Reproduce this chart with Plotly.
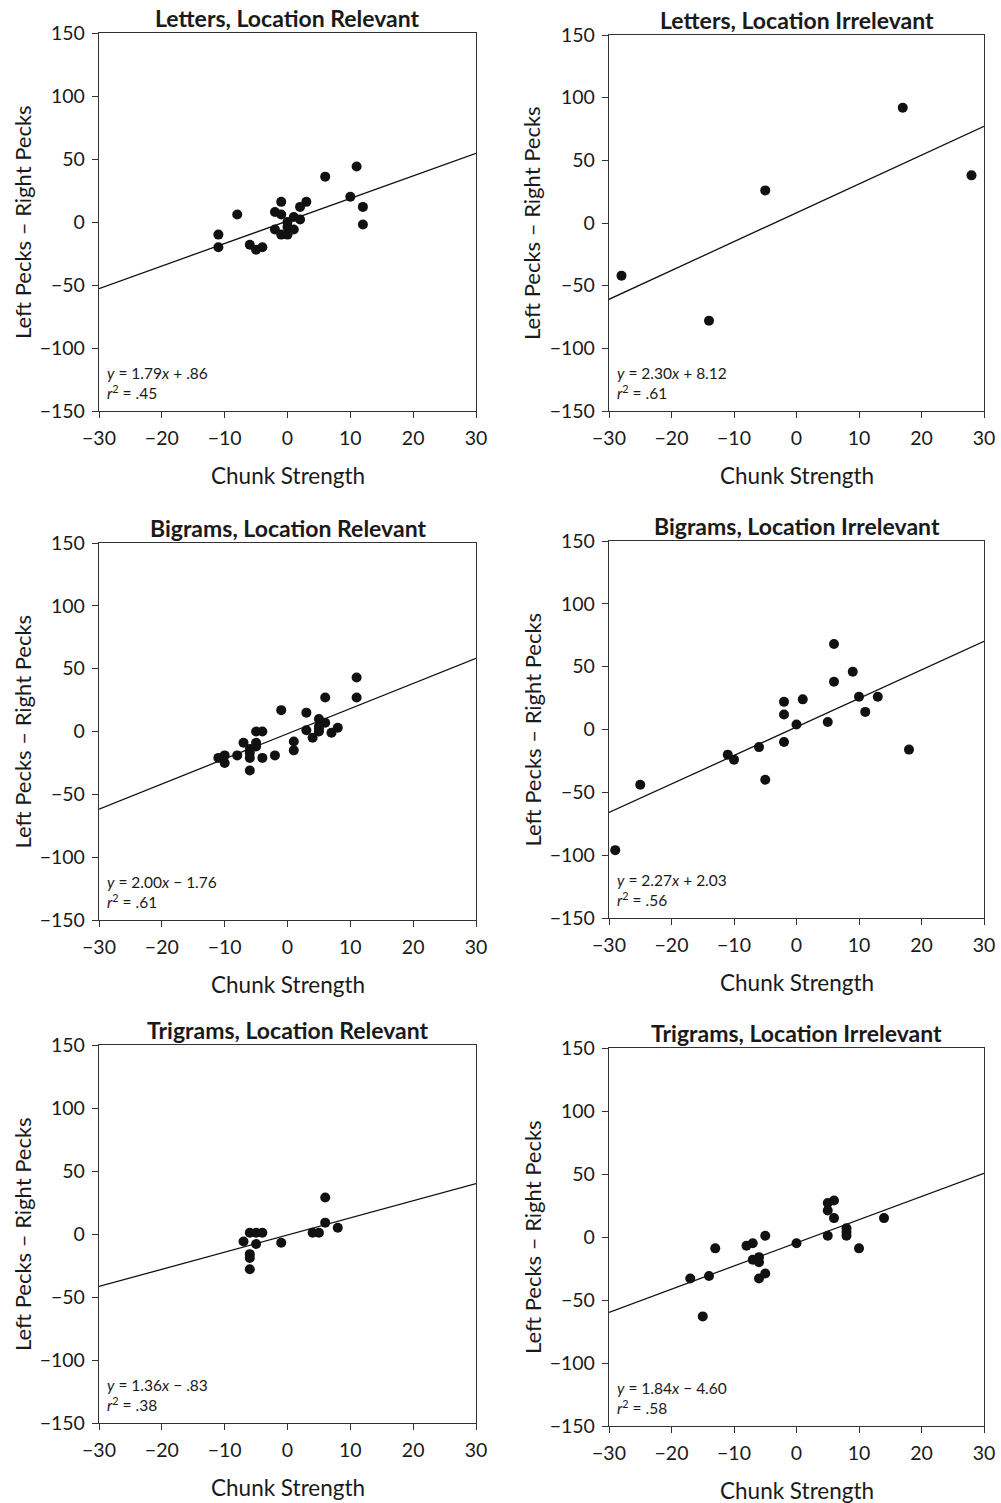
import plotly.graph_objects as go

# ---------------- data ----------------
titles = [
    "Letters, Location Relevant", "Letters, Location Irrelevant",
    "Bigrams, Location Relevant", "Bigrams, Location Irrelevant",
    "Trigrams, Location Relevant", "Trigrams, Location Irrelevant",
]

x1 = [11, 6, 10, 12, 12, 3, 2, -1, -2, -1, 1, 2, 0, -2, 1, -1, 0, 0, -8, -11, -11, -6, -5, -4]
y1 = [44, 36, 20, 12, -2, 16, 12, 16, 8, 6, 4, 2, 0, -6, -6, -10, -10, -4, 6, -10, -20, -18, -22, -20]

x2 = [-28, -14, -5, 17, 28]
y2 = [-42, -78, 26, 92, 38]

x3 = [11, 11, 6, -1, 3, 5, 6, 5, 8, 3, 5, 7, 4, 1, 1, -2, -4, -5, -4, -5, -5, -7, -6, -6, -6, -8, -10, -11, -10, 5, -6]
y3 = [43, 27, 27, 17, 15, 10, 7, 4, 3, 1, 0, -1, -5, -8, -15, -19, -21, 0, 0, -9, -12, -9, -14, -21, -31, -19, -19, -21, -25, 2, -17]

x4 = [6, 9, 6, 10, 13, 11, 5, 0, 1, -2, -2, -2, -6, -5, -11, -10, -25, -29, 18]
y4 = [68, 46, 38, 26, 26, 14, 6, 4, 24, 22, 12, -10, -14, -40, -20, -24, -44, -96, -16]

x5 = [6, 6, 8, 4, 5, -1, -6, -5, -4, -7, -5, -6, -6, -6]
y5 = [29, 9, 5, 1, 1, -7, 1, 1, 1, -6, -8, -16, -19, -28]

x6 = [6, 5, 5, 6, 14, 8, 8, 8, 5, 10, 0, -5, -7, -8, -7, -6, -6, -6, -5, -13, -14, -17, -15]
y6 = [29, 27, 21, 15, 15, 7, 4, 1, 1, -9, -5, 1, -5, -7, -18, -16, -20, -33, -29, -9, -31, -33, -63]

slopes = [1.79, 2.30, 2.00, 2.27, 1.36, 1.84]
intercepts = [0.86, 8.12, -1.76, 2.03, -0.83, -4.60]
r2_labels = [".45", ".61", ".61", ".56", ".38", ".58"]

x_range = [-30, 30]
y_range = [-150, 150]
x_ticks = [-30, -20, -10, 0, 10, 20, 30]
y_ticks = [-150, -100, -50, 0, 50, 100, 150]

xs = [x1, x2, x3, x4, x5, x6]
ys = [y1, y2, y3, y4, y5, y6]

# ---------------- layout (pixel boxes in the page) ----------------
W, H = 1001, 1503
boxes = [  # left, right, top, bottom in page px
    (99, 476, 33, 411),
    (609, 984, 35, 411),
    (99, 476, 543, 920),
    (609, 984, 541, 918),
    (99, 476, 1045, 1423),
    (609, 984, 1048, 1426),
]

FONT = "Lato"
INK = "#1a1a1a"

fig = go.Figure()
layout = dict(
    template="none",
    width=W, height=H,
    margin=dict(l=0, r=0, t=0, b=0, pad=0),
    paper_bgcolor="white", plot_bgcolor="white",
    showlegend=False,
    font=dict(family=FONT, color=INK, size=19),
)
annotations = []


def fmt_num(v):
    s = f"{abs(v):.2f}"
    if s.startswith("0."):
        s = s[1:]
    return s


for i in range(6):
    k = "" if i == 0 else str(i + 1)
    xa, ya = "x" + k, "y" + k
    l, r, t, b = boxes[i]
    common = dict(
        ticks="outside", ticklen=6, tickwidth=1.2,
        tickcolor="#333", showline=True, linecolor="#333", linewidth=1.4,
        mirror=True, showgrid=False, zeroline=False, automargin=False,
        ticklabeloverflow="allow",
        tickfont=dict(family=FONT, size=19.5, color=INK),
    )
    layout["xaxis" + k] = dict(
        domain=[l / W, r / W], range=x_range, anchor=ya,
        tickvals=x_ticks, ticklabelstandoff=3, **common,
    )
    layout["yaxis" + k] = dict(
        domain=[1 - b / H, 1 - t / H], range=y_range, anchor=xa,
        tickvals=y_ticks, ticklabelstandoff=3, **common,
    )
    fig.add_trace(go.Scatter(
        x=xs[i], y=ys[i], mode="markers", xaxis=xa, yaxis=ya,
        marker=dict(size=10, color="#111", line=dict(width=0)),
        cliponaxis=False,
    ))
    lx = [x_range[0], x_range[1]]
    ly = [slopes[i] * v + intercepts[i] for v in lx]
    fig.add_trace(go.Scatter(
        x=lx, y=ly, mode="lines", xaxis=xa, yaxis=ya,
        line=dict(color="#111", width=1.3),
    ))
    sign = "+" if intercepts[i] >= 0 else "\u2212"
    eq = (f"<i>y</i> = {slopes[i]:.2f}<i>x</i> {sign} {fmt_num(intercepts[i])}"
          f"<br><i>r</i><sup>2</sup> = {r2_labels[i]}")
    annotations.append(dict(
        xref=xa + " domain", yref=ya + " domain", x=0, y=0,
        xanchor="left", yanchor="bottom", xshift=6, yshift=7,
        text=eq, showarrow=False, align="left",
        font=dict(family=FONT, size=15.5, color=INK),
    ))
    annotations.append(dict(
        xref=xa + " domain", yref=ya + " domain", x=0.5, y=1,
        xanchor="center", yanchor="middle", yshift=15,
        text=f"<b>{titles[i]}</b>", showarrow=False,
        font=dict(family=FONT, size=23, color=INK),
    ))
    annotations.append(dict(
        xref=xa + " domain", yref=ya + " domain", x=0.5, y=0,
        xanchor="center", yanchor="middle", yshift=-64,
        text="Chunk Strength", showarrow=False,
        font=dict(family=FONT, size=22.5, color=INK),
    ))
    annotations.append(dict(
        xref=xa + " domain", yref=ya + " domain", x=0, y=0.5,
        xanchor="center", yanchor="middle", xshift=-77,
        text="Left Pecks \u2013 Right Pecks", showarrow=False, textangle=-90,
        font=dict(family=FONT, size=22, color=INK),
    ))

layout["annotations"] = annotations
fig.update_layout(**layout)
fig.write_html(
    "out.html",
    config={"displayModeBar": False},
    post_script="document.body.style.margin='0';"
                "document.documentElement.style.overflow='hidden';",
)
